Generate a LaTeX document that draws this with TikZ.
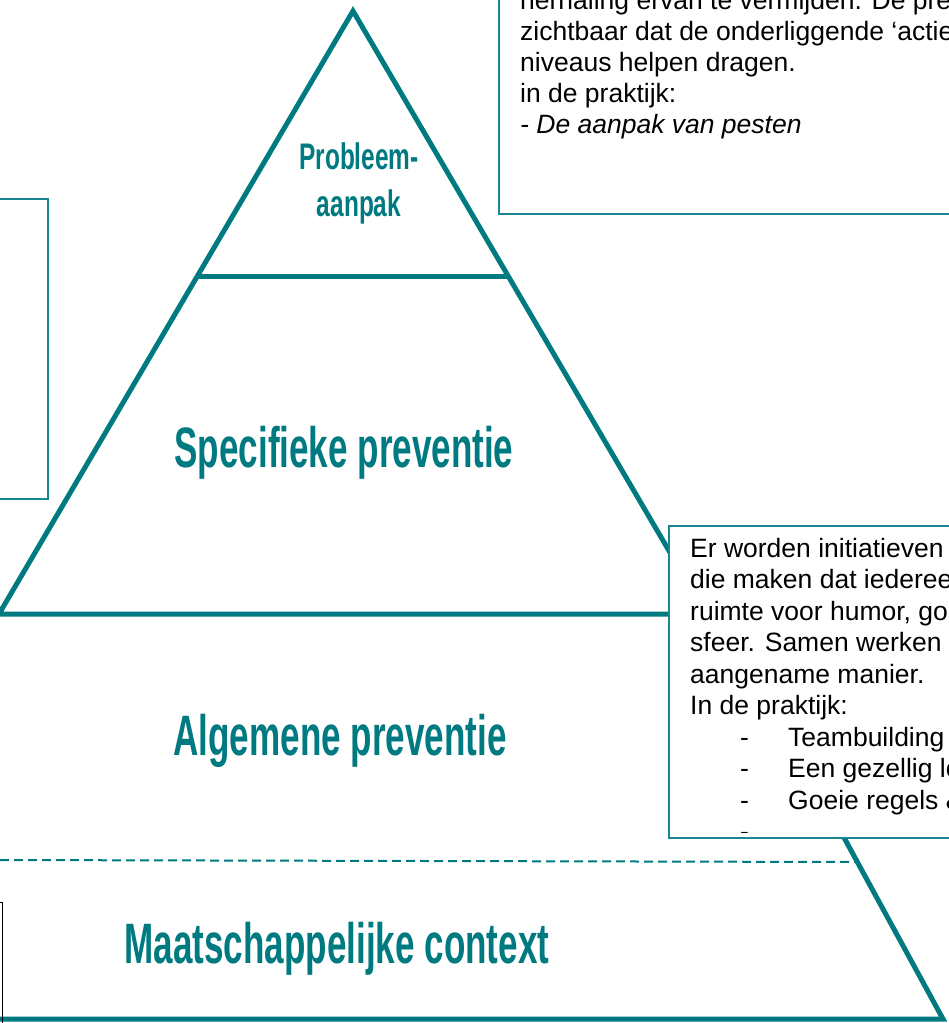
\documentclass[tikz,border=0pt]{standalone}
\usepackage{fontspec}
\setmainfont{Liberation Sans}
\usepackage{graphicx}
\usetikzlibrary{positioning}
\definecolor{Petrol}{RGB}{0,122,129}
\definecolor{Kaderblauw}{RGB}{25,135,145}

\newcommand{\smal}[2]{\scalebox{#1}[1]{#2}}

\begin{document}
\begin{tikzpicture}[x=1pt, y=-1pt,
        lijn/.style={draw=Petrol, line width=5pt, line join=miter},
        kader/.style={draw=Kaderblauw, line width=1.3pt, fill=white},
        titel/.style={text=Petrol, font=\fontsize{57}{60}\selectfont\bfseries, inner sep=0pt, anchor=base},
        kleintitel/.style={text=Petrol, font=\fontsize{37}{40}\selectfont\bfseries, inner sep=0pt, anchor=base},
        tekst/.style={font=\fontsize{26.5}{31.5}\selectfont, inner sep=0pt, anchor=base west}]

            \useasboundingbox (0,0) rectangle (949,1023);
            \clip (0,0) rectangle (949,1023);

            % === Piramide ===
            \coordinate (top) at (353,11);
            \draw[lijn] (-1,614) -- (top) -- (706,614) -- cycle;
            \draw[lijn] (197,276) -- (509,276);

            % === Onderste laag ===
            \draw[lijn] (722,614) -- (943,1019) -- (-5,1019);
            \draw[Petrol, line width=2pt, dash pattern=on 9pt off 5pt] (0,860) -- (855,862);

            % === Kaders ===
            \draw[kader] (499,-10) rectangle (960,214);
            \draw[kader] (-10,199) rectangle (48,499);
            \draw[kader] (669,526) rectangle (960,838);
            \draw[black, line width=0.8pt] (-10,902) rectangle (2,1030);

            % === Titels ===
            \node[kleintitel] (probleem) at (359,169) {\smal{0.66}{Probleem-}};
            \node[kleintitel] (aanpak) at (359,216.5) {\smal{0.66}{aanpak}};
            \node[titel] (specifiek) at (344,467) {\smal{0.615}{Specifieke preventie}};
            \node[titel] (algemeen) at (340,755) {\smal{0.615}{Algemene preventie}};
            \node[titel] (context) at (337,963) {\smal{0.615}{Maatschappelijke context}};

            % === Tekst bovenaan ===
            \foreach \regel [count=\k from 0] in {herhaling ervan te vermijden. De pre, zichtbaar dat de onderliggende ‘actie, niveaus helpen dragen., in de praktijk:, \textit{- De aanpak van pesten}}
                \node[tekst] (boven\k) at (520, {9+31*\k}) {\regel};

            % === Tekst onderaan ===
            \begin{scope}
                \clip (669,526) rectangle (949,832);
                \foreach \regel [count=\k from 0] in {Er worden initiatieven, die maken dat iederee, {ruimte voor humor, go}, sfeer. Samen werken, aangename manier., In de praktijk:}
                    \node[tekst] (onder\k) at (690, {557+31.5*\k}) {\regel};
                \foreach \punt [count=\k from 6] in {Teambuilding, Een gezellig lo, Goeie regels \&, {}}
                    \node[tekst] (punt\k) at (740, {557+31.5*\k}) {\makebox[48pt][l]{-}\punt};
            \end{scope}
        \end{tikzpicture}
\end{document}
